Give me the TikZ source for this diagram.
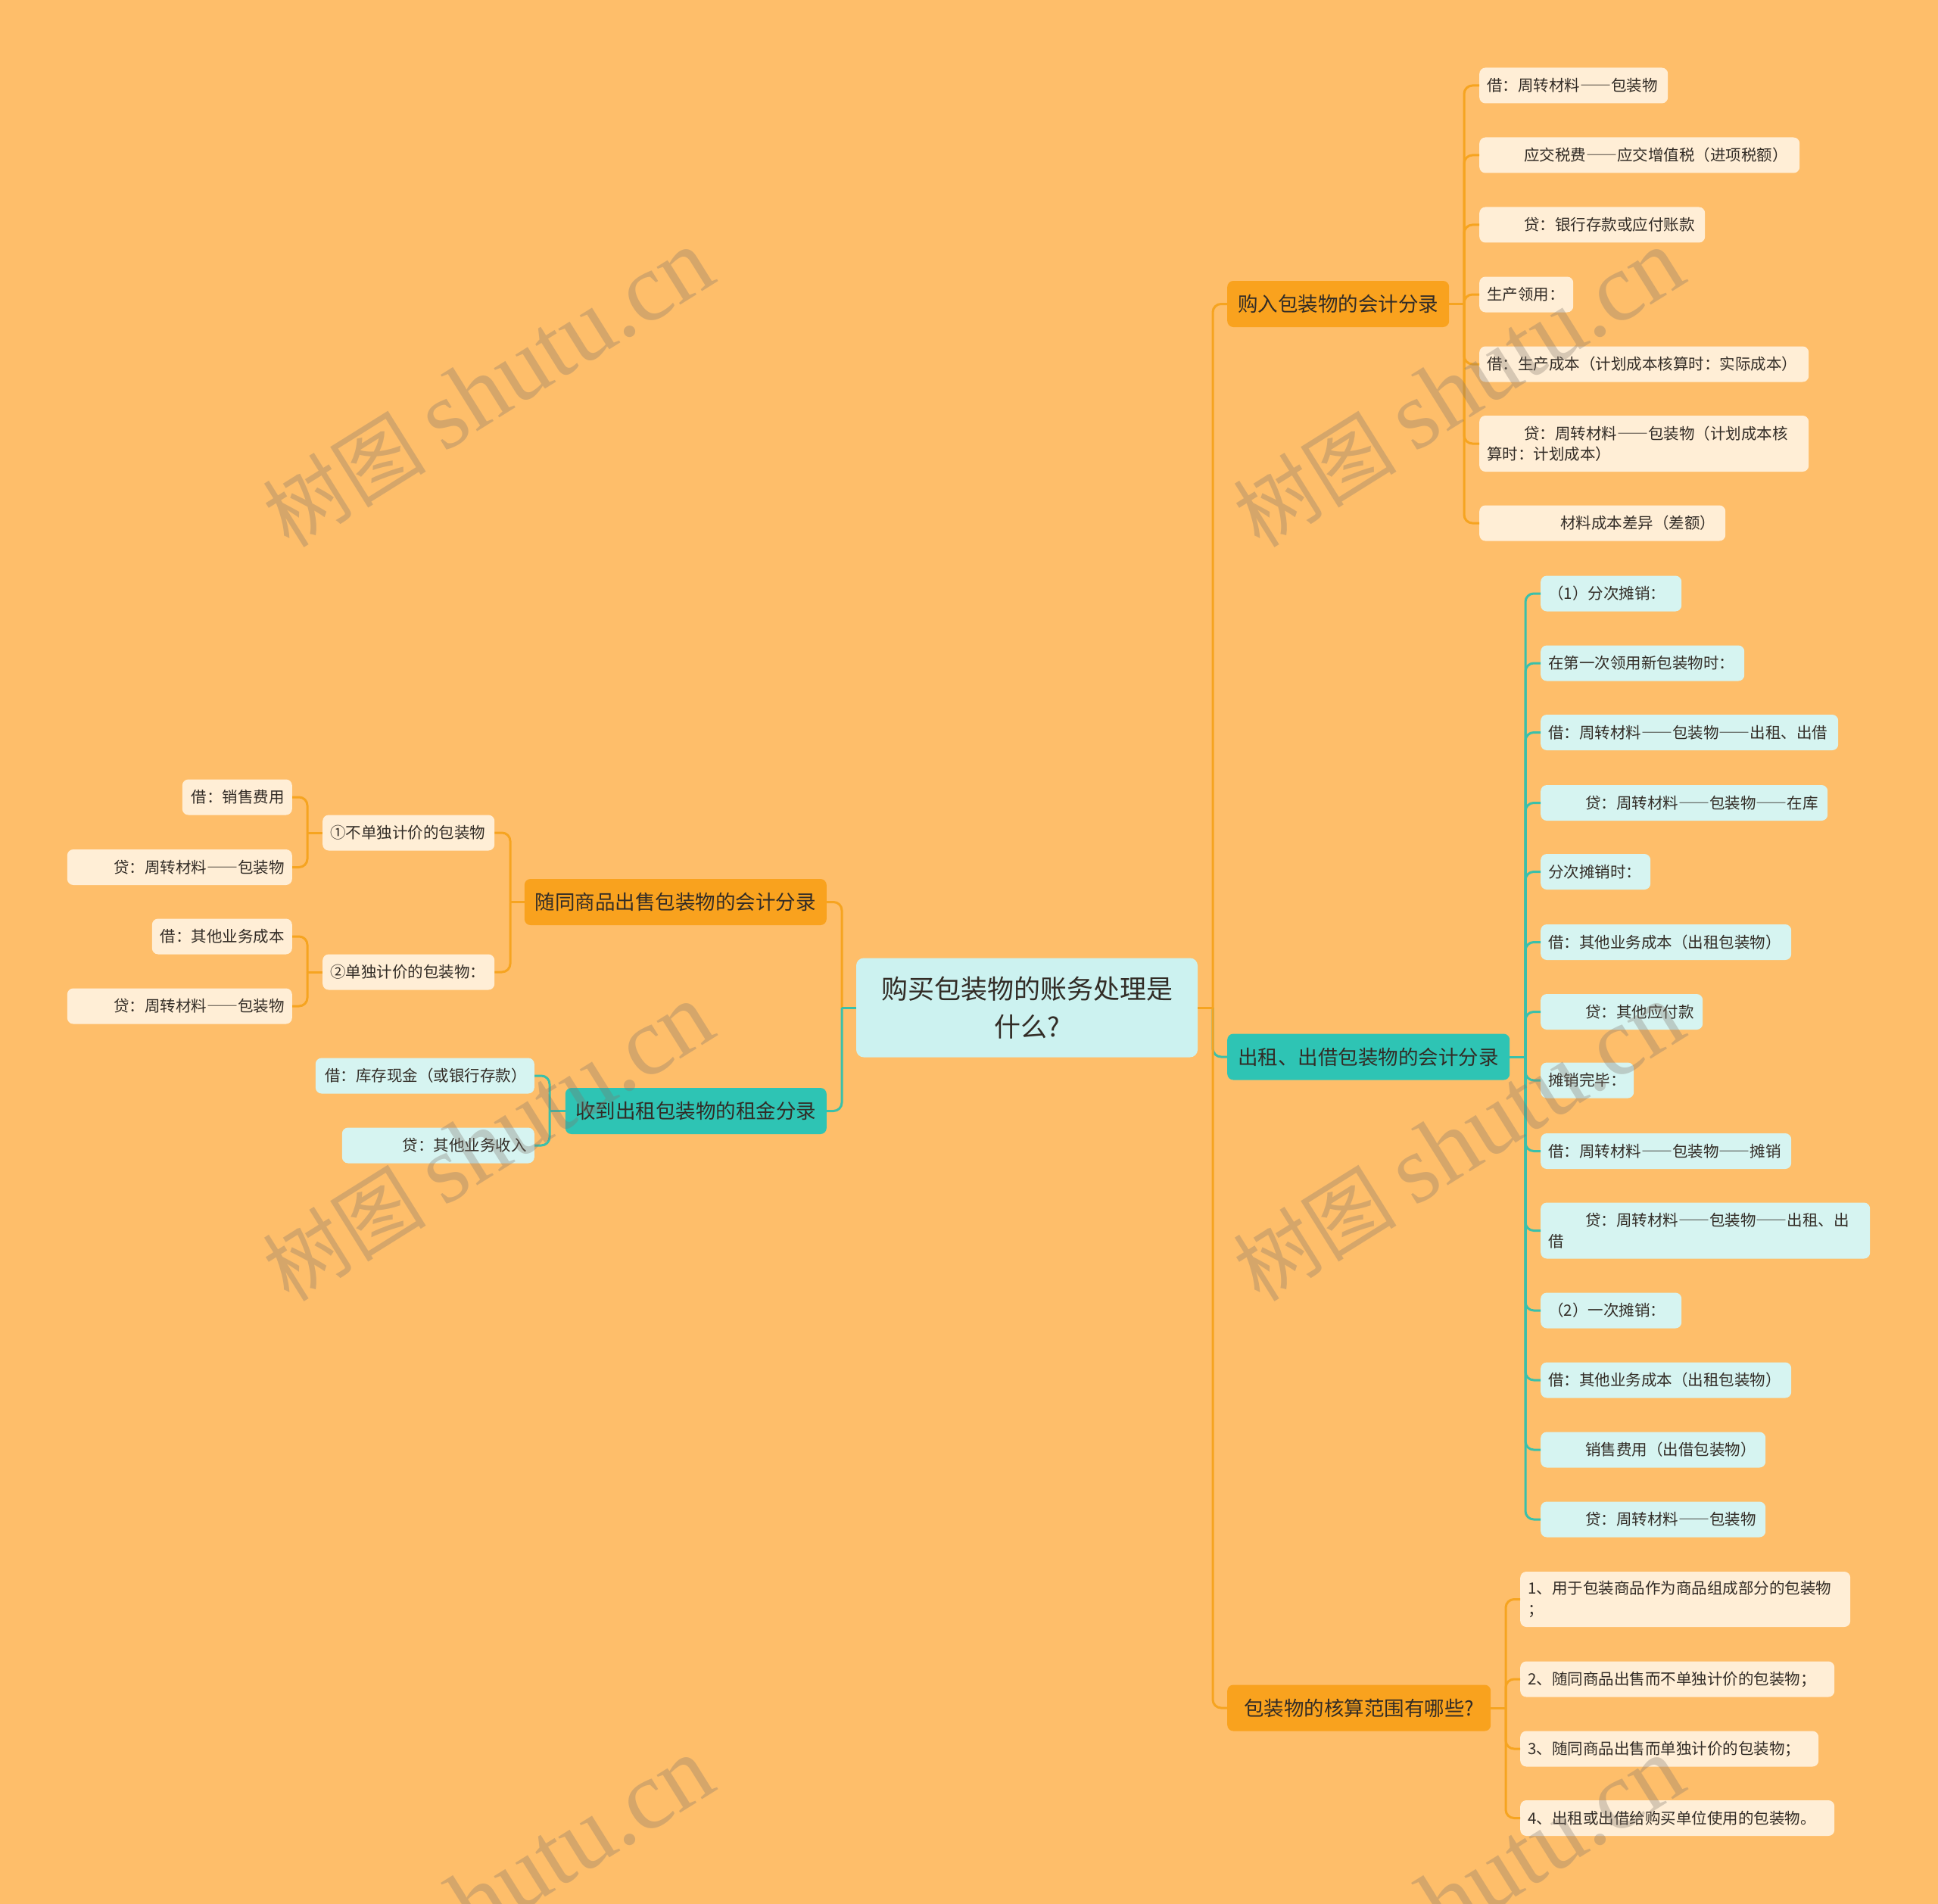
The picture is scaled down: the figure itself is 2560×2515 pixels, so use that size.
\documentclass[tikz,border=0pt]{standalone}
\usepackage{fontspec}
\usepackage{graphicx}
\newfontfamily\cjk{Noto Sans CJK SC}
\newfontfamily\cjkfw[RawFeature=+fwid]{Noto Sans CJK SC}
\newfontfamily\wmserif{Liberation Serif}
\newcommand\emd{\resizebox{2em}{\height}{\cjkfw ——}}
\definecolor{bg}{RGB}{254,190,106}
\definecolor{orgfill}{RGB}{249,162,30}
\definecolor{tealfill}{RGB}{46,196,180}
\definecolor{orgleaf}{RGB}{255,238,214}
\definecolor{tealleaf}{RGB}{214,244,241}
\definecolor{centerfill}{RGB}{204,242,240}
\definecolor{orgline}{RGB}{246,164,32}
\definecolor{tealline}{RGB}{58,192,170}
\definecolor{txt}{RGB}{50,44,38}
\definecolor{wmcol}{RGB}{128,118,108}
\tikzset{
  box/.style={rounded corners=8pt, inner xsep=10pt, inner ysep=0pt, anchor=west,
    minimum height=47pt, text=txt, font=\cjk\fontsize{20.5}{27.5}\selectfont},
  leafO/.style={box, fill=orgleaf, align=left},
  leafT/.style={box, fill=tealleaf, align=left},
  leafOL/.style={box, fill=orgleaf, align=right, anchor=east},
  leafTL/.style={box, fill=tealleaf, align=right, anchor=east},
  branch/.style={rounded corners=8pt, inner sep=0pt, minimum height=61pt, align=center,
    text=txt, font=\cjk\fontsize{26.5}{32}\selectfont},
  branchO/.style={branch, fill=orgfill},
  branchT/.style={branch, fill=tealfill},
  rootbox/.style={rounded corners=10pt, inner sep=0pt, minimum height=131pt, align=center,
    fill=centerfill, text=txt, font=\cjk\fontsize{35}{50}\selectfont},
  oline/.style={draw=orgline, line width=3pt, rounded corners=11pt},
  tline/.style={draw=tealline, line width=3pt, rounded corners=11pt},
  wm/.style={text=wmcol, text opacity=0.32, rotate=32, inner sep=0pt}
}
\begin{document}
\begin{tikzpicture}[x=1pt,y=-1pt]
\fill[bg] (0,0) rectangle (2560,2515);
\useasboundingbox (0,0) rectangle (2560,2515);

% root
\node[rootbox, text width=451pt] (root) at (1356.5,1331) {购买包装物的账务处理是\\什么?};

% right branches
\node[branchO, text width=293pt, anchor=west] (buy) at (1621,401.5) {购入包装物的会计分录};
\node[branchT, text width=373pt, anchor=west] (rent) at (1621,1396) {出租、出借包装物的会计分录};
\node[branchO, text width=348pt, anchor=west] (scope) at (1621,2256) {包装物的核算范围有哪些?};

% left branches
\node[branchO, text width=399pt, anchor=east] (sale) at (1092,1191.5) {随同商品出售包装物的会计分录};
\node[branchT, text width=345pt, anchor=east] (fee) at (1092,1467.5) {收到出租包装物的租金分录};

% A leaves
\node[leafO, text width=229pt] (a1) at (1954,113) {借：周转材料\emd 包装物};
\node[leafO, text width=403pt] (a2) at (1954,205) {\hspace*{49pt}应交税费\emd 应交增值税（进项税额）};
\node[leafO, text width=278pt] (a3) at (1954,297) {\hspace*{49pt}贷：银行存款或应付账款};
\node[leafO, text width=104pt] (a4) at (1954,389) {生产领用：};
\node[leafO, text width=415pt] (a5) at (1954,481) {借：生产成本（计划成本核算时：实际成本）};
\node[leafO, text width=415pt, minimum height=74pt] (a6) at (1954,586) {\hspace*{49pt}贷：周转材料\emd 包装物（计划成本核\\算时：计划成本）};
\node[leafO, text width=305pt] (a7) at (1954,691) {\hspace*{97pt}材料成本差异（差额）};

% B leaves
\node[leafT, text width=166pt] (b1) at (2035,784) {（1）分次摊销：};
\node[leafT, text width=249pt] (b2) at (2035,876) {在第一次领用新包装物时：};
\node[leafT, text width=373pt] (b3) at (2035,967.5) {借：周转材料\emd 包装物\emd 出租、出借};
\node[leafT, text width=359pt] (b4) at (2035,1060.5) {\hspace*{49pt}贷：周转材料\emd 包装物\emd 在库};
\node[leafT, text width=125pt] (b5) at (2035,1151.5) {分次摊销时：};
\node[leafT, text width=311pt] (b6) at (2035,1244.5) {借：其他业务成本（出租包装物）};
\node[leafT, text width=194pt] (b7) at (2035,1336.5) {\hspace*{49pt}贷：其他应付款};
\node[leafT, text width=103pt] (b8) at (2035,1427) {摊销完毕：};
\node[leafT, text width=311pt] (b9) at (2035,1520.5) {借：周转材料\emd 包装物\emd 摊销};
\node[leafT, text width=415pt, minimum height=74pt] (b10) at (2035,1625.5) {\hspace*{49pt}贷：周转材料\emd 包装物\emd 出租、出\\借};
\node[leafT, text width=166pt] (b11) at (2035,1731) {（2）一次摊销：};
\node[leafT, text width=311pt] (b12) at (2035,1823) {借：其他业务成本（出租包装物）};
\node[leafT, text width=277pt] (b13) at (2035,1915) {\hspace*{49pt}销售费用（出借包装物）};
\node[leafT, text width=277pt] (b14) at (2035,2007) {\hspace*{49pt}贷：周转材料\emd 包装物};

% C leaves
\node[leafO, text width=416pt, minimum height=73pt] (c1) at (2008,2112.5) {1、用于包装商品作为商品组成部分的包装物\\；};
\node[leafO, text width=395pt] (c2) at (2008,2218) {2、随同商品出售而不单独计价的包装物；};
\node[leafO, text width=374pt] (c3) at (2008,2310) {3、随同商品出售而单独计价的包装物；};
\node[leafO, text width=395pt] (c4) at (2008,2401.5) {4、出租或出借给购买单位使用的包装物。};

% D subnodes
\node[leafO, text width=207pt] (d1) at (426,1100) {①不单独计价的包装物};
\node[leafO, text width=207pt] (d2) at (426,1284) {②单独计价的包装物：};
\node[leafOL, text width=125pt] (d1a) at (386,1053) {借：销售费用};
\node[leafOL, text width=277pt] (d1b) at (386,1145.5) {贷：周转材料\emd 包装物};
\node[leafOL, text width=165pt] (d2a) at (386,1237) {借：其他业务成本};
\node[leafOL, text width=277pt] (d2b) at (386,1329) {贷：周转材料\emd 包装物};

% E leaves
\node[leafTL, text width=269pt] (e1) at (706,1421) {借：库存现金（或银行存款）};
\node[leafTL, text width=234pt] (e2) at (706,1513) {贷：其他业务收入};

% junction coordinates
\coordinate (rj) at (1602,1331);
\coordinate (lj) at (1112,1331);
\coordinate (aj) at (1934,401.5);
\coordinate (bj) at (2015,1396);
\coordinate (cj) at (1989,2256);
\coordinate (dj) at (674,1191.5);
\coordinate (d1j) at (406,1100);
\coordinate (d2j) at (406,1284);
\coordinate (ej) at (726,1467.5);

% right trunk
\draw[tline] (rj) |- (rent.west);
\draw[oline] (root.east) -- (rj);
\draw[oline] (rj) |- (buy.west);
\draw[oline] (rj) |- (scope.west);

% left trunk
\draw[oline] (lj) |- (sale.east);
\draw[tline] (root.west) -- (lj);
\draw[tline] (lj) |- (fee.east);

% A
\draw[oline] (buy.east) -- (aj);
\foreach \n in {a1,a2,a3,a4,a5,a6,a7} \draw[oline] (aj) |- (\n.west);
% B
\draw[tline] (rent.east) -- (bj);
\foreach \n in {b1,b2,b3,b4,b5,b6,b7,b8,b9,b10,b11,b12,b13,b14} \draw[tline] (bj) |- (\n.west);
% C
\draw[oline] (scope.east) -- (cj);
\foreach \n in {c1,c2,c3,c4} \draw[oline] (cj) |- (\n.west);
% D
\draw[oline] (sale.west) -- (dj);
\foreach \n in {d1,d2} \draw[oline] (dj) |- (\n.east);
\draw[oline] (d1.west) -- (d1j);
\foreach \n in {d1a,d1b} \draw[oline] (d1j) |- (\n.east);
\draw[oline] (d2.west) -- (d2j);
\foreach \n in {d2a,d2b} \draw[oline] (d2j) |- (\n.east);
% E
\draw[tline] (fee.west) -- (ej);
\foreach \n in {e1,e2} \draw[tline] (ej) |- (\n.east);

% watermarks
\foreach \wx/\wy [count=\i] in {645/513, 1927/513, 645/1509, 1927/1509, 645/2505, 1927/2505}
  \node[wm] (wm\i) at (\wx,\wy) {\fontsize{108}{108}\selectfont\cjk 树图 \fontsize{128}{128}\selectfont\wmserif shutu.cn};
\end{tikzpicture}
\end{document}
